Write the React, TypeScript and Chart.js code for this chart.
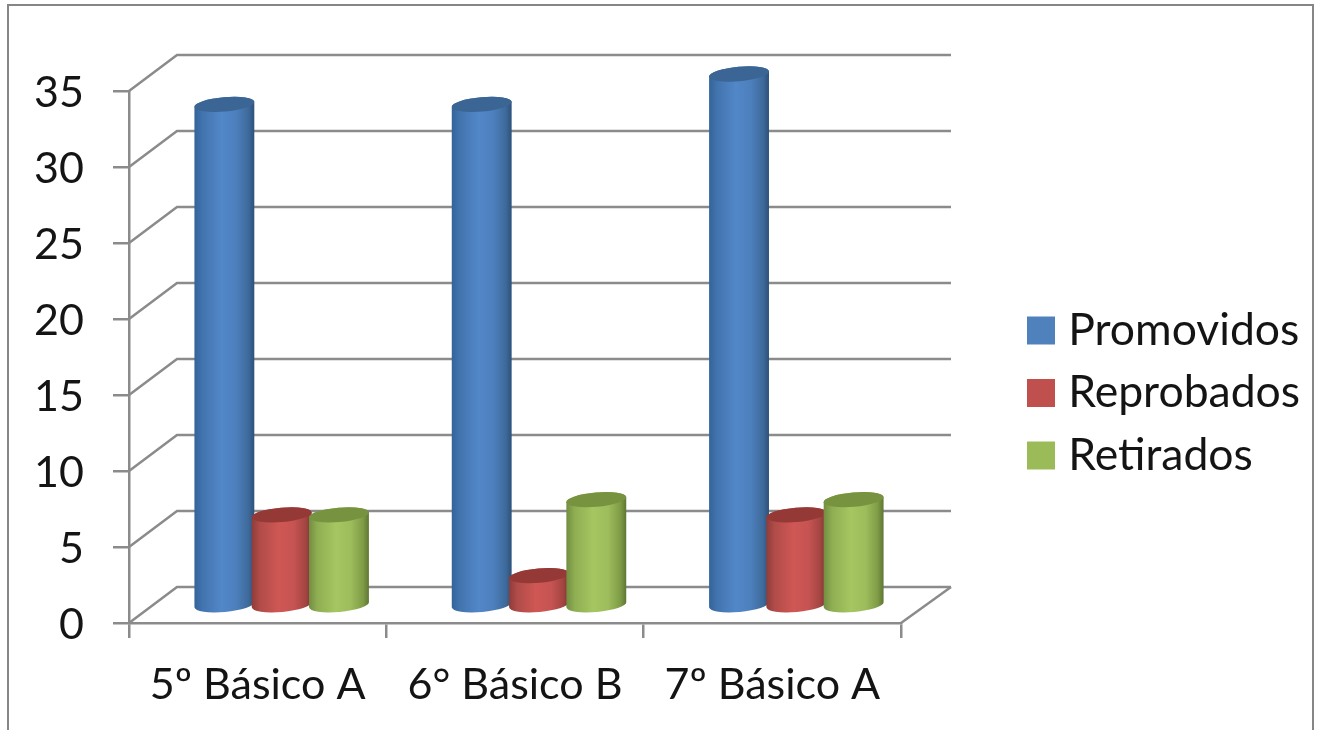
import React, { useEffect, useRef } from "react";
import { Chart, registerables } from "chart.js";

Chart.register(...registerables);

const categories = ["5º Básico A", "6° Básico B", "7º Básico A"];
const promovidos = [33, 33, 35];
const reprobados = [6, 2, 6];
const retirados = [6, 7, 7];
const yTicks = [0, 5, 10, 15, 20, 25, 30, 35];

const LINE = "#8b8b8b";
const TEXT = "#141414";
const FONT = "Lato";

const SERIES_STYLE = [
  { base: "#4f81bd", stops: ["#33639a", "#4274ae", "#5287c8", "#4c7fbc", "#3e6a9b", "#2d5079"], top: "#3a6594" },
  { base: "#c0504d", stops: ["#8f3c3a", "#b04c49", "#cf5754", "#c65452", "#a34542", "#7e3331"], top: "#953937" },
  { base: "#9bbb59", stops: ["#728d41", "#8fae52", "#a5c661", "#9dbc5b", "#7f9c46", "#5e7532"], top: "#78933f" },
];
const STOP_AT = [0, 0.14, 0.45, 0.7, 0.9, 1];

const DEPTH_X = 48;
const DEPTH_Y = 36;
const BAR_DX = 24;
const BAR_DY = 17;
const BAR_GROW = 2.8;
const ELLIPSE_RY = 7.2;
const TILT = (-5 * Math.PI) / 180;

const scenePlugin = {
  id: "scene3d",
  afterLayout(chart: any) {
    const lg = chart.legend;
    const pad = lg.options.labels.padding;
    lg.left = 1036 - pad;
    lg.right = 1312;
    lg.width = lg.right - lg.left;
    lg.top = 100;
    lg.bottom = 686;
    lg.height = lg.bottom - lg.top;
  },
  beforeDatasetsDraw(chart: any) {
    const { ctx, scales, chartArea } = chart;
    const y = scales.y;
    ctx.save();
    ctx.strokeStyle = LINE;
    ctx.lineWidth = 2.5;
    ctx.lineJoin = "miter";
    y.ticks.forEach((t: any) => {
      const py = y.getPixelForValue(t.value);
      ctx.beginPath();
      ctx.moveTo(chartArea.left, py);
      ctx.lineTo(chartArea.left + DEPTH_X, py - DEPTH_Y);
      ctx.lineTo(chartArea.right + DEPTH_X + 2, py - DEPTH_Y);
      ctx.stroke();
    });
    const py0 = y.getPixelForValue(0);
    ctx.beginPath();
    ctx.moveTo(chartArea.right, py0);
    ctx.lineTo(chartArea.right + DEPTH_X + 2, py0 - DEPTH_Y);
    ctx.stroke();

    const n = chart.data.labels.length;
    for (let c = 0; c < n; c++) {
      chart.data.datasets.forEach((_: any, ds: number) => {
        const el = chart.getDatasetMeta(ds).data[c];
        const st = SERIES_STYLE[ds];
        const w = el.width + BAR_GROW;
        const cx = el.x + BAR_DX;
        const ty = el.y - BAR_DY;
        const by = el.base - BAR_DY;
        const rx = w / 2;
        const g = ctx.createLinearGradient(cx - rx, 0, cx + rx, 0);
        st.stops.forEach((col: string, i: number) => g.addColorStop(STOP_AT[i], col));
        const sx = rx * Math.cos(TILT);
        const sy = rx * Math.sin(TILT);
        ctx.beginPath();
        ctx.ellipse(cx, by, rx, ELLIPSE_RY, TILT, 0, Math.PI);
        ctx.lineTo(cx - sx, ty - sy);
        ctx.ellipse(cx, ty, rx, ELLIPSE_RY, TILT, Math.PI, 2 * Math.PI);
        ctx.lineTo(cx + sx, by + sy);
        ctx.closePath();
        ctx.fillStyle = g;
        ctx.fill();
        ctx.beginPath();
        ctx.ellipse(cx, ty, rx, ELLIPSE_RY, TILT, 0, 2 * Math.PI);
        ctx.fillStyle = st.top;
        ctx.fill();
      });
    }
    ctx.restore();
    return false;
  },
};

export default function App() {
  const ref = useRef<HTMLCanvasElement | null>(null);
  useEffect(() => {
    const chart = new Chart(ref.current as HTMLCanvasElement, {
      type: "bar",
      data: {
        labels: categories,
        datasets: [
          { label: "Promovidos", data: promovidos, backgroundColor: SERIES_STYLE[0].base },
          { label: "Reprobados", data: reprobados, backgroundColor: SERIES_STYLE[1].base },
          { label: "Retirados", data: retirados, backgroundColor: SERIES_STYLE[2].base },
        ],
      },
      options: {
        responsive: false,
        animation: false,
        devicePixelRatio: 1,
        events: [],
        layout: { autoPadding: false, padding: { left: 0, top: 91, right: 417, bottom: 0 } },
        datasets: { bar: { categoryPercentage: 0.668, barPercentage: 1 } },
        scales: {
          x: {
            afterFit(s: any) { s.height = 107; },
            grid: { drawOnChartArea: false, color: LINE, lineWidth: 2.5, tickLength: 15, offset: true },
            border: { color: LINE, width: 2.5 },
            ticks: { color: TEXT, font: { family: FONT, size: 43 }, padding: 21, maxRotation: 0, autoSkip: false },
          },
          y: {
            min: 0,
            max: 35,
            afterFit(s: any) { s.width = 129; },
            afterBuildTicks(s: any) { s.ticks = yTicks.map((value) => ({ value })); },
            grid: { drawOnChartArea: false, color: LINE, lineWidth: 2.5, tickLength: 16 },
            border: { color: LINE, width: 2.5 },
            ticks: { color: TEXT, font: { family: FONT, size: 43 }, padding: 29, labelOffset: 2 },
          },
        },
        plugins: {
          title: { display: false },
          tooltip: { enabled: false },
          legend: {
            position: "chartArea",
            labels: {
              color: TEXT,
              font: { family: FONT, size: 44.5 },
              boxWidth: 10,
              boxHeight: 10,
              padding: 18,
              generateLabels(c: any) {
                return (Chart.defaults.plugins.legend.labels as any)
                  .generateLabels(c)
                  .map((l: any) => ({ ...l, lineWidth: 18, strokeStyle: l.fillStyle }));
              },
            },
          },
        },
      } as any,
      plugins: [scenePlugin as any],
    });
    return () => chart.destroy();
  }, []);
  return (
    <div style={{ position: "fixed", left: 0, top: 0, width: 1318, height: 730, background: "#fff", overflow: "hidden" }}>
      <canvas ref={ref} width={1318} height={730} style={{ display: "block" }} />
      <div
        style={{
          position: "absolute",
          left: 7,
          top: 4,
          width: 1303,
          height: 724,
          borderTop: "2.5px solid #868686",
          borderLeft: "2.5px solid #868686",
          borderRight: "2.5px solid #868686",
        }}
      />
    </div>
  );
}
